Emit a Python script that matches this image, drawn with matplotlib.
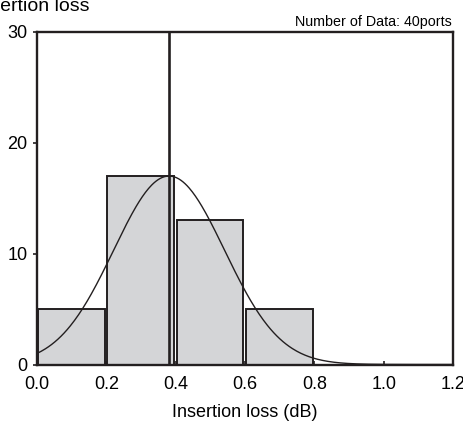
import numpy as np
import matplotlib
matplotlib.use("Agg")
import matplotlib.pyplot as plt

plt.rcParams['font.family'] = ['Liberation Sans', 'DejaVu Sans']

# histogram data
bin_left = np.array([0.0, 0.2, 0.4, 0.6])
counts = [5, 17, 13, 5]
mean_loss = 0.381
sigma = 0.16
peak = 17

edge = '#231f20'

fig = plt.figure(figsize=(4.64, 4.21), dpi=100)
ax = fig.add_axes([0.0797, 0.1342, 0.8966, 0.790])

ax.bar(bin_left + 0.003, counts, width=0.192, align='edge',
       color='#d4d5d7', edgecolor=edge, linewidth=1.4)

xs = np.linspace(0, 1.2, 400)
gauss = peak * np.exp(-(xs - mean_loss) ** 2 / (2 * sigma ** 2))
ax.plot(xs, gauss, color=edge, linewidth=1.0)

ax.axvline(mean_loss, color=edge, linewidth=1.9)

ax.set_xlim(0, 1.2)
ax.set_ylim(0, 30)
ax.set_xticks([0.0, 0.2, 0.4, 0.6, 0.8, 1.0, 1.2])
ax.set_xticklabels(['0.0', '0.2', '0.4', '0.6', '0.8', '1.0', '1.2'])
ax.set_yticks([0, 10, 20, 30])
ax.tick_params(axis='x', direction='in', length=3, width=1.2, labelsize=13, pad=8, color=edge)
ax.tick_params(axis='y', direction='out', length=3, width=1.2, labelsize=13, pad=4, color=edge)
for s in ax.spines.values():
    s.set_linewidth(1.7)
    s.set_color(edge)

ax.set_xlabel('Insertion loss (dB)', fontsize=13, labelpad=8)
ax.text(0.997, 1.018, 'Number of Data: 40ports', transform=ax.transAxes,
        ha='right', va='baseline', fontsize=10.3)
fig.text(-0.056, 0.975, 'Insertion loss', fontsize=14, ha='left', va='baseline')

fig.savefig('out.png', dpi=100)
